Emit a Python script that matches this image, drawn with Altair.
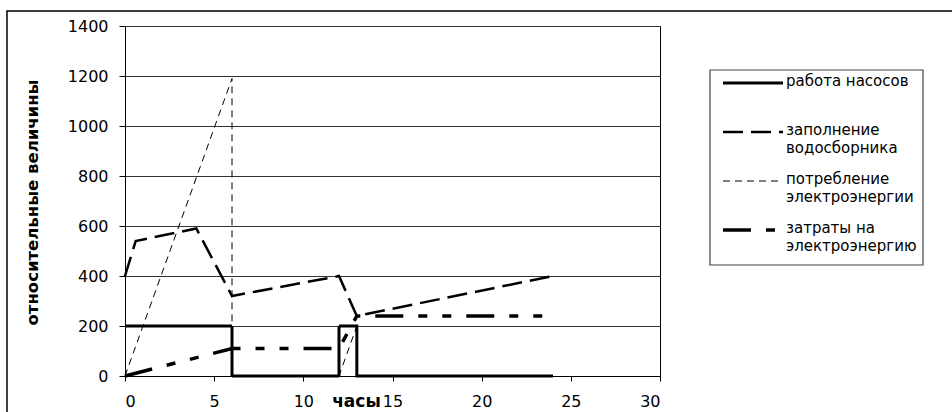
import altair as alt
import pandas as pd

# ---- data ----
series_names = ["работа насосов", "заполнение водосборника",
                "потребление электроэнергии", "затраты на электроэнергию"]
legend_labels = ["работа насосов", "заполнение\nводосборника",
                 "потребление\nэлектроэнергии", "затраты на\nэлектроэнергию"]

pump_x = [0, 6, 6, 12, 12, 13, 13, 24]
pump_y = [200, 200, 0, 0, 200, 200, 0, 0]

fill_x = [0, 0.6, 4, 6, 12, 13, 24]
fill_y = [400, 540, 590, 320, 400, 240, 400]

power_x = [0, 6, 6, 12, 13, 13, 24]
power_y = [0, 1190, 0, 0, 200, 0, 0]

cost_x = [0, 6, 12, 13, 24]
cost_y = [0, 110, 110, 240, 240]

x_ticks = [0, 5, 10, 15, 20, 25, 30]
y_ticks = [0, 200, 400, 600, 800, 1000, 1200, 1400]

rows = []
for name, xs, ys in zip(series_names,
                        [pump_x, fill_x, power_x, cost_x],
                        [pump_y, fill_y, power_y, cost_y]):
    for i, (xv, yv) in enumerate(zip(xs, ys)):
        rows.append({"series": name, "x": xv, "y": yv, "i": i})
df = pd.DataFrame(rows)

leg = pd.DataFrame({"series": series_names, "label": legend_labels,
                    "row": list(range(len(series_names)))})

FONT = "DejaVu Sans"
W, H = 535, 350

styles = {
    series_names[0]: dict(strokeDash=[1, 0], strokeWidth=3),
    series_names[1]: dict(strokeDash=[20, 8], strokeWidth=2.5),
    series_names[2]: dict(strokeDash=[7, 5], strokeWidth=1),
    series_names[3]: dict(strokeDash=[28, 15, 9, 15, 9, 15], strokeWidth=3.5),
}

x_enc = alt.X("x:Q", scale=alt.Scale(domain=[0, 30], nice=False),
              axis=alt.Axis(values=x_ticks, title="часы", grid=False,
                            tickSize=5, labelPadding=20, labelBaseline="middle",
                            titleX=231, titleY=25, titleBaseline="middle",
                            titleAlign="center", titleFontWeight="bold",
                            titleFontSize=17))
y_enc = alt.Y("y:Q", scale=alt.Scale(domain=[0, 1400], nice=False),
              axis=alt.Axis(values=y_ticks, format="d",
                            title="относительные величины",
                            grid=True, tickSize=6, labelPadding=11,
                            titleX=-93, titleY=176, titleBaseline="middle",
                            titleAlign="center", titleFontWeight="bold",
                            titleFontSize=16.5))

base = alt.Chart(df)
line_layers = []
for name in series_names:
    line_layers.append(
        base.transform_filter(alt.datum.series == name)
        .mark_line(color="black", strokeCap="butt", strokeJoin="miter", **styles[name])
        .encode(x=x_enc, y=y_enc, order=alt.Order("i:Q"))
    )

one = alt.Data(values=[{"a": 1}])

frame = alt.Chart(one).mark_rect(fill=None, stroke="black", strokeWidth=1.5).encode(
    x=alt.value(-118), x2=alt.value(1000), y=alt.value(-15), y2=alt.value(600))

box = alt.Chart(one).mark_rect(fill="white", stroke="#444444", strokeWidth=1.2).encode(
    x=alt.value(585), x2=alt.value(798), y=alt.value(44), y2=alt.value(239))

row_scale = alt.Scale(domain=[0, 3], range=[57, 204])

leg_layers = []
for name in series_names:
    leg_layers.append(
        alt.Chart(leg).transform_filter(alt.datum.series == name)
        .mark_rule(color="black", strokeCap="butt", **styles[name])
        .encode(x=alt.value(598), x2=alt.value(658),
                y=alt.Y("row:Q", scale=row_scale, axis=None))
    )

leg_text = alt.Chart(leg).mark_text(align="left", baseline="top", dy=-9,
                                    lineBreak="\n", lineHeight=18,
                                    font=FONT, fontSize=15, color="black").encode(
    x=alt.value(661),
    y=alt.Y("row:Q", scale=row_scale, axis=None),
    text="label:N",
)

main = alt.layer(*line_layers)
legend_part = alt.layer(box, *leg_layers, leg_text)

chart = alt.layer(frame, main, legend_part).resolve_scale(
    y="independent"
).properties(
    width=W, height=H,
    autosize=alt.AutoSizeParams(type="none"),
    padding={"left": 125, "top": 26, "right": 952 - 125 - W, "bottom": 412 - 26 - H},
    background="white",
).configure_view(
    stroke="black", strokeWidth=1
).configure_axis(
    labelFont=FONT, labelFontSize=16, labelColor="black",
    titleFont=FONT, titleColor="black",
    domainColor="black", tickColor="black", gridColor="#333333",
    gridWidth=1, domainWidth=1, tickWidth=1,
)

chart.save("out.html", embed_options={"renderer": "svg", "actions": False})
